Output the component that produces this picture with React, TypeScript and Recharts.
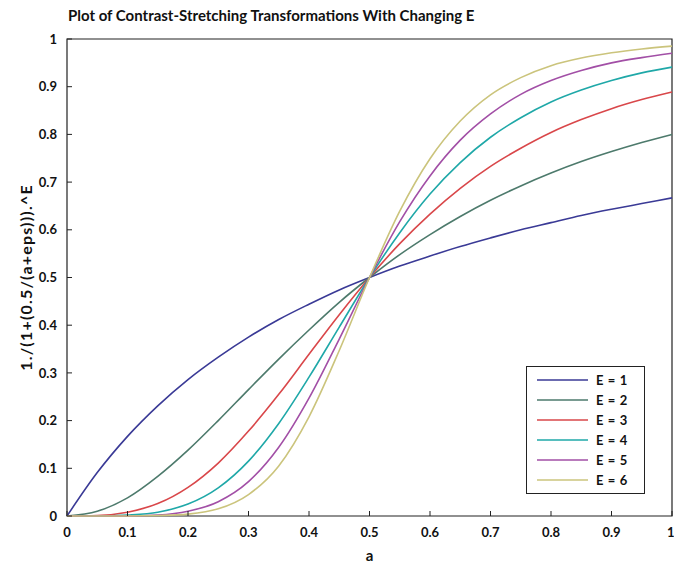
import { LineChart, Line, XAxis, YAxis, ReferenceArea, Legend } from "recharts";

// sample positions along a (every 0.05)
const aValues = [0, 0.05, 0.1, 0.15, 0.2, 0.25, 0.3, 0.35, 0.4, 0.45, 0.5, 0.55, 0.6, 0.65, 0.7, 0.75, 0.8, 0.85, 0.9, 0.95, 1];

const e1 = [0, 0.091, 0.167, 0.231, 0.286, 0.333, 0.375, 0.412, 0.444, 0.474, 0.5, 0.524, 0.545, 0.565, 0.583, 0.6, 0.615, 0.63, 0.643, 0.655, 0.667];
const e2 = [0, 0.01, 0.038, 0.083, 0.138, 0.2, 0.265, 0.329, 0.39, 0.448, 0.5, 0.548, 0.59, 0.628, 0.662, 0.692, 0.719, 0.743, 0.764, 0.783, 0.8];
const e3 = [0, 0.001, 0.008, 0.026, 0.06, 0.111, 0.178, 0.255, 0.339, 0.422, 0.5, 0.571, 0.633, 0.687, 0.733, 0.771, 0.804, 0.831, 0.854, 0.873, 0.889];
const e4 = [0, 0, 0.002, 0.008, 0.025, 0.059, 0.115, 0.194, 0.291, 0.396, 0.5, 0.594, 0.675, 0.741, 0.794, 0.835, 0.868, 0.893, 0.913, 0.929, 0.941];
const e5 = [0, 0, 0, 0.002, 0.01, 0.03, 0.072, 0.144, 0.247, 0.371, 0.5, 0.617, 0.713, 0.788, 0.843, 0.884, 0.913, 0.934, 0.95, 0.961, 0.97];
const e6 = [0, 0, 0, 0.001, 0.004, 0.015, 0.045, 0.105, 0.208, 0.347, 0.5, 0.639, 0.749, 0.828, 0.883, 0.919, 0.944, 0.96, 0.971, 0.979, 0.985];

const seriesNames = ["E = 1", "E = 2", "E = 3", "E = 4", "E = 5", "E = 6"];
const seriesValues = [e1, e2, e3, e4, e5, e6];
const seriesColors = ["#3a3a96", "#4d7a6c", "#d9474a", "#1fa8a8", "#a24fa6", "#cbc47c"];

const tickValues = [0, 0.1, 0.2, 0.3, 0.4, 0.5, 0.6, 0.7, 0.8, 0.9, 1];
const tickLabels = ["0", "0.1", "0.2", "0.3", "0.4", "0.5", "0.6", "0.7", "0.8", "0.9", "1"];

const data = aValues.map((a, i) => {
  const row: Record<string, number> = { a };
  seriesNames.forEach((name, s) => {
    row[name] = seriesValues[s][i];
  });
  return row;
});

const FONT = "Lato, 'Open Sans', sans-serif";
const fmt = (v: number) => tickLabels[tickValues.indexOf(v)] ?? String(v);

function LegendBox({ payload }: any) {
  return (
    <div
      style={{
        border: "1px solid #222",
        background: "#fff",
        padding: "3px 0",
        fontFamily: FONT,
        fontSize: 13,
        fontWeight: 700,
        letterSpacing: 0.6,
        color: "#111",
      }}
    >
      {(payload || []).map((p: any) => (
        <div key={p.value} style={{ display: "flex", alignItems: "center", height: 20 }}>
          <svg width={64} height={20}>
            <line x1={10} x2={61} y1={10} y2={10} stroke={p.color} strokeWidth={1.6} />
          </svg>
          <span style={{ marginLeft: 5 }}>{p.value}</span>
        </div>
      ))}
    </div>
  );
}

export default function App() {
  return (
    <div style={{ position: "absolute", left: 0, top: 0, width: 674, height: 563, background: "#fff" }}>
      <div
        style={{
          position: "absolute",
          left: 68,
          top: 6,
          fontFamily: FONT,
          fontSize: 15,
          fontWeight: 700,
          color: "#111",
          whiteSpace: "nowrap",
        }}
      >
        Plot of Contrast-Stretching Transformations With Changing E
      </div>
      <LineChart width={674} height={563} data={data} margin={{ top: 39, right: 2, bottom: 0, left: 0 }}>
        <XAxis
          xAxisId="x"
          dataKey="a"
          type="number"
          domain={[0, 1]}
          ticks={tickValues}
          tickFormatter={fmt}
          height={47}
          axisLine={false}
          tickSize={-5}
          tickMargin={17}
          tickLine={{ stroke: "#222" }}
          tick={{ fill: "#111", fontSize: 13, fontFamily: FONT, fontWeight: 700 }}
          label={{ value: "a", position: "insideBottom", offset: 2, fill: "#111", fontSize: 15, fontFamily: FONT, fontWeight: 700 }}
        />
        <XAxis
          xAxisId="top"
          orientation="top"
          dataKey="a"
          type="number"
          domain={[0, 1]}
          ticks={tickValues}
          height={0}
          axisLine={false}
          tickSize={-5}
          tickLine={{ stroke: "#222" }}
          tick={false}
        />
        <YAxis
          yAxisId="y"
          type="number"
          domain={[0, 1]}
          ticks={tickValues}
          tickFormatter={fmt}
          width={67}
          axisLine={false}
          tickSize={-5}
          tickMargin={15}
          tickLine={{ stroke: "#222" }}
          tick={{ fill: "#111", fontSize: 13, fontFamily: FONT, fontWeight: 700 }}
          label={{
            value: "1./(1+(0.5/(a+eps))).^E",
            angle: -90,
            position: "insideLeft",
            offset: 26,
            style: { textAnchor: "middle", letterSpacing: 1.2 },
            fill: "#111",
            fontSize: 16,
            fontFamily: FONT,
            fontWeight: 700,
          }}
        />
        <YAxis
          yAxisId="right"
          orientation="right"
          type="number"
          domain={[0, 1]}
          ticks={tickValues}
          width={0}
          axisLine={false}
          tickSize={-5}
          tickLine={{ stroke: "#222" }}
          tick={false}
        />
        <ReferenceArea xAxisId="x" yAxisId="y" x1={0} x2={1} y1={0} y2={1} fill="none" stroke="#222" strokeWidth={1.2} />
        {seriesNames.map((name, i) => (
          <Line
            key={name}
            xAxisId="x"
            yAxisId="y"
            type="monotone"
            dataKey={name}
            name={name}
            stroke={seriesColors[i]}
            strokeWidth={1.6}
            dot={false}
            isAnimationActive={false}
          />
        ))}
        <Legend
          layout="vertical"
          align="center"
          verticalAlign="middle"
          content={<LegendBox />}
          wrapperStyle={{ left: 526, top: 366, width: 119, height: "auto" }}
        />
      </LineChart>
    </div>
  );
}
